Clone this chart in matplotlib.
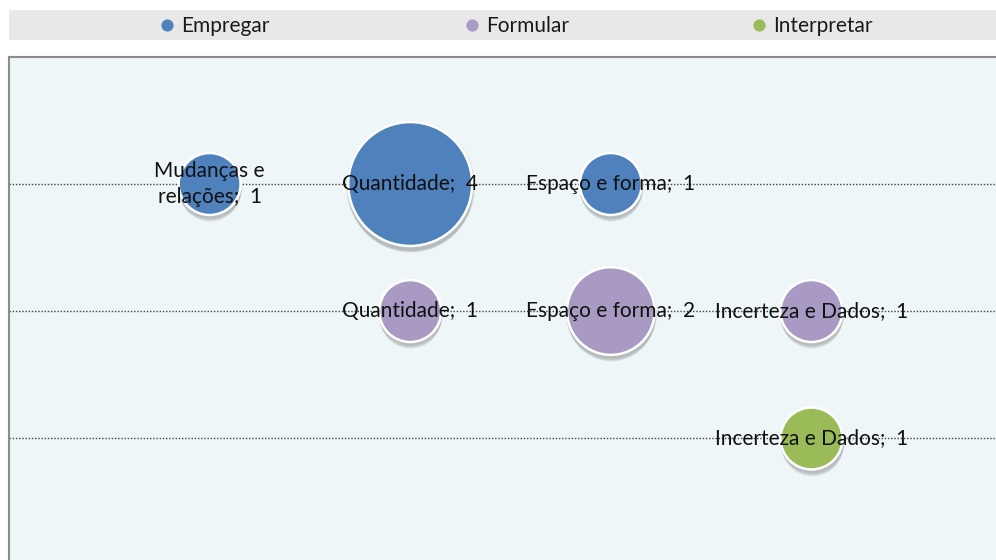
# -*- coding: utf-8 -*-

import matplotlib
matplotlib.use("Agg")
import matplotlib.pyplot as plt
from matplotlib.transforms import offset_copy

plt.rcParams['font.family'] = ['Lato', 'DejaVu Sans']

series = ['Empregar', 'Formular', 'Interpretar']
colors = ['#4f81bd', '#a99ac4', '#9bbb59']
series_y = [3, 2, 1]

# (x position, value, label) per series
emp_x = [1, 2, 3]
emp_v = [1, 4, 1]
emp_lab = ['Mudanças e\nrelações;  1', 'Quantidade;  4', 'Espaço e forma;  1']

form_x = [2, 3, 4]
form_v = [1, 2, 1]
form_lab = ['Quantidade;  1', 'Espaço e forma;  2', 'Incerteza e Dados;  1']

interp_x = [4]
interp_v = [1]
interp_lab = ['Incerteza e Dados;  1']

data = [(emp_x, emp_v, emp_lab), (form_x, form_v, form_lab),
        (interp_x, interp_v, interp_lab)]

SIZE_UNIT = 1990  # points^2 per unit of value

fig = plt.figure(figsize=(9.96, 5.6), dpi=100)
fig.patch.set_facecolor('white')

# legend band
band = fig.add_axes([9 / 996, 1 - 40 / 560, 1 - 9 / 996, 30 / 560])
band.set_facecolor('#e8e8e8')
band.set_xticks([])
band.set_yticks([])
for s in band.spines.values():
    s.set_visible(False)
band.set_xlim(0, 987)
band.set_ylim(0, 1)
leg_x = [158, 463, 750]
for name, c, lx in zip(series, colors, leg_x):
    band.scatter([lx], [0.5], s=60, color=c, zorder=3)
    band.text(lx + 14, 0.47, name, fontsize=15, va='center', ha='left',
              color='#1a1a1a')

# plot area
ax = fig.add_axes([9 / 996, 0, 1 - 9 / 996, (560 - 57) / 560])
ax.set_facecolor('#eef6f8')
ax.set_xlim(0, 4.92)
ax.set_ylim(0.04, 4)
ax.set_xticks([])
ax.set_yticks([])
for side in ['right', 'bottom']:
    ax.spines[side].set_visible(False)
for side in ['left', 'top']:
    ax.spines[side].set_color('#8c8c8c')
    ax.spines[side].set_linewidth(1.5)

for y in series_y:
    ax.axhline(y, color='#444444', linestyle=(0, (1, 1.3)), linewidth=1.0,
               zorder=1)

for (xs, vs, labs), c, y in zip(data, colors, series_y):
    ys = [y] * len(xs)
    sizes = [v * SIZE_UNIT for v in vs]
    # soft shadow
    for k, a in enumerate([0.07, 0.08, 0.10, 0.10]):
        tr = offset_copy(ax.transData, fig=fig, x=0.5, y=-(2 + k * 1.5),
                         units='dots')
        ax.scatter(xs, ys, s=[sz * (1.0 + 0.03 * (3 - k)) for sz in sizes],
                   color='#404040', alpha=a, linewidths=0, transform=tr,
                   zorder=2)
    ax.scatter(xs, ys, s=sizes, color=c, edgecolors='white', linewidths=1.8,
               zorder=3)
    for x, lab in zip(xs, labs):
        ax.text(x, y, lab, fontsize=15, ha='center', va='center',
                color='#111111', zorder=4, linespacing=1.35)

fig.savefig('out.png', dpi=100)
